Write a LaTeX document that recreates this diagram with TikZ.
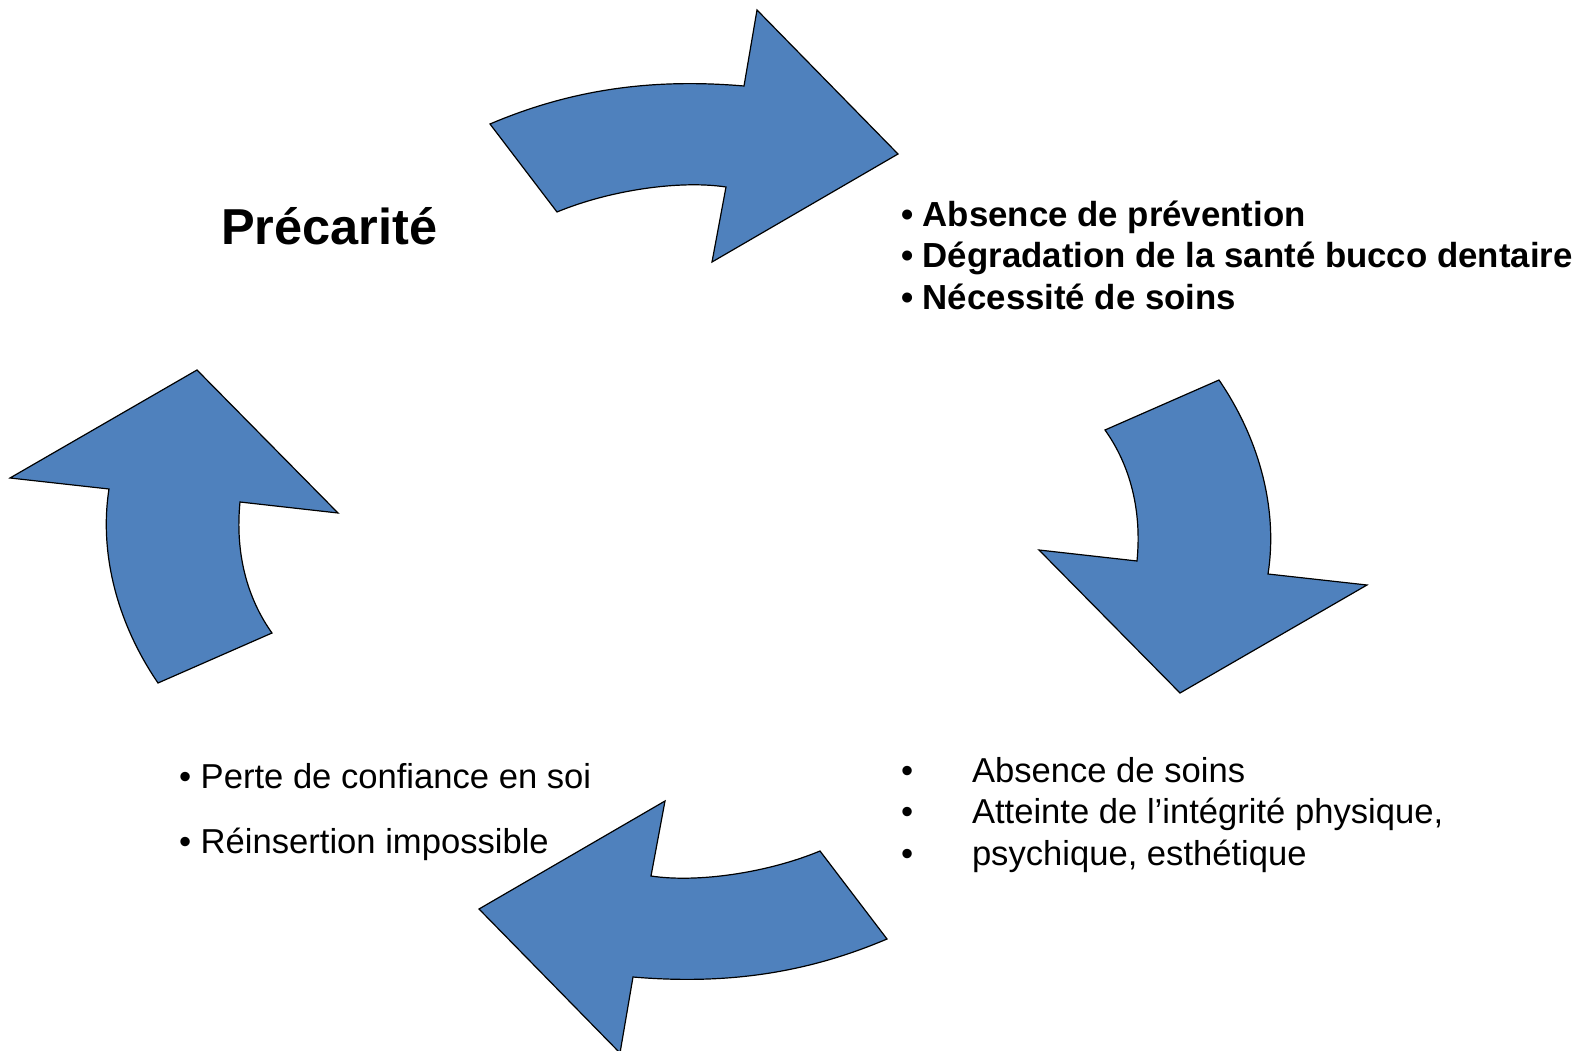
\documentclass[tikz,border=0pt]{standalone}
\usepackage{fontspec}
\setmainfont{Liberation Sans}
\definecolor{arrblue}{HTML}{4F81BD}
\begin{document}
\begin{tikzpicture}[x=1pt,y=-1pt,
  arr/.style={fill=arrblue,draw=black,line width=1.2pt,line join=miter},
  txt/.style={anchor=base west,inner sep=0pt,outer sep=0pt,font=\fontsize{34.6}{41}\selectfont},
  btxt/.style={txt,font=\fontsize{34.8}{41}\selectfont\bfseries},
  title/.style={anchor=base west,inner sep=0pt,font=\fontsize{50.5}{60}\selectfont\bfseries}]
\path[use as bounding box,fill=white] (0,0) rectangle (1577,1051);
% top arrow and its 180 degree copy
\draw[arr] (490,124) .. controls (570,90) and (650,78) .. (744,86) -- (757,10) -- (898,154) -- (712,262) -- (726,187) .. controls (680,180) and (610,190) .. (557,212) -- cycle;
\begin{scope}[rotate around={180:(688.5,531.5)}]
\draw[arr] (490,124) .. controls (570,90) and (650,78) .. (744,86) -- (757,10) -- (898,154) -- (712,262) -- (726,187) .. controls (680,180) and (610,190) .. (557,212) -- cycle;
\end{scope}
% right arrow and its 180 degree copy
\draw[arr] (1219,380) .. controls (1260,440) and (1278,510) .. (1268,574) -- (1367,585) -- (1180,693) -- (1039,550) -- (1137,561) .. controls (1142,510) and (1130,465) .. (1105,430) -- cycle;
\begin{scope}[rotate around={180:(688.5,531.5)}]
\draw[arr] (1219,380) .. controls (1260,440) and (1278,510) .. (1268,574) -- (1367,585) -- (1180,693) -- (1039,550) -- (1137,561) .. controls (1142,510) and (1130,465) .. (1105,430) -- cycle;
\end{scope}
% texts
\node[title] (prec) at (221,244) {Précarité};
\node[btxt] (tr1) at (901,227) {• Absence de prévention};
\node[btxt] (tr2) at (901,268) {• Dégradation de la santé bucco dentaire};
\node[btxt] (tr3) at (901,309) {• Nécessité de soins};
\node[txt] (brb1) at (901,782) {•};
\node[txt] (brb2) at (901,823) {•};
\node[txt] (brb3) at (901,865) {•};
\node[txt] (br1) at (972,782) {Absence de soins};
\node[txt] (br2) at (972,823) {Atteinte de l’intégrité physique,};
\node[txt] (br3) at (972,865) {psychique, esthétique};
\node[txt] (l1) at (179,788) {• Perte de confiance en soi};
\node[txt] (l2) at (179,853) {• Réinsertion impossible};
\end{tikzpicture}
\end{document}
